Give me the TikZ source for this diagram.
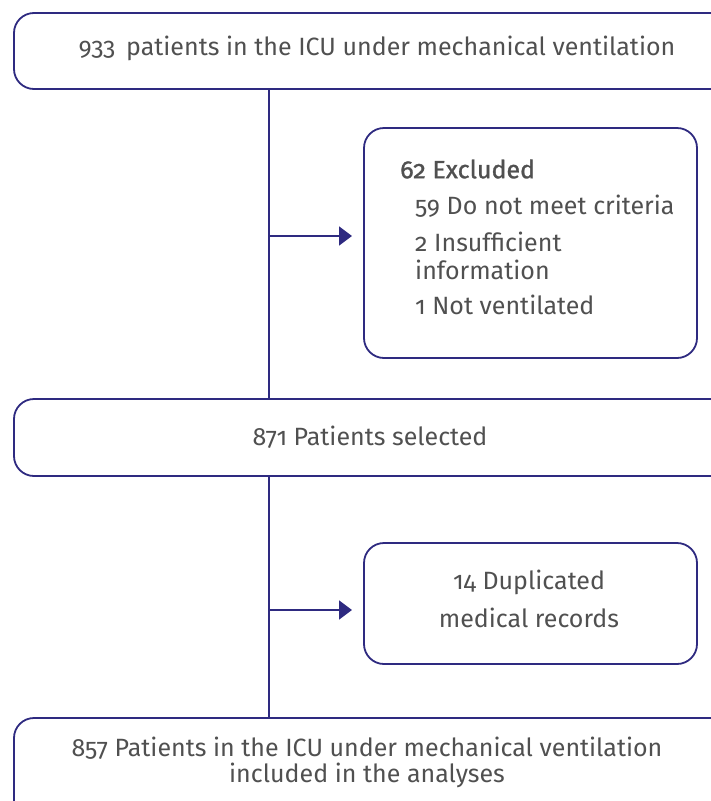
\documentclass[tikz,border=0pt]{standalone}
\usepackage{fontspec}
\setmainfont{Fira Sans}[Numbers=OldStyle]
\usetikzlibrary{arrows.meta}
\definecolor{ln}{HTML}{2E2A80}
\definecolor{tx}{HTML}{505050}
\begin{document}
\begin{tikzpicture}[x=1pt,y=-1pt,
  box/.style={draw=ln,line width=1.8pt,rounded corners=20pt},
  conn/.style={draw=ln,line width=1.8pt},
  arr/.style={conn,-{Triangle[length=13pt,width=19pt]}},
  lbl/.style={text=tx,font=\fontsize{25}{28}\selectfont,inner sep=0pt}]
\useasboundingbox (0,0) rectangle (711,801);
\begin{scope}
\clip (0,0) rectangle (711,801);
\draw[box] (14,13) rectangle (730,89);
\draw[box] (364,128) rectangle (697,358);
\draw[box] (14,399) rectangle (730,476);
\draw[box] (364,543) rectangle (697,664);
\draw[box] (14,718) rectangle (730,830);
\end{scope}
\coordinate (t) at (269,89);
\coordinate (m1) at (269,399);
\coordinate (m2) at (269,476);
\coordinate (b) at (269,718);
\coordinate (a1) at (269,236);
\coordinate (e1) at (352,236);
\coordinate (a2) at (269,610);
\coordinate (e2) at (352,610);
\draw[conn] (t) -- (m1);
\draw[conn] (m2) -- (b);
\draw[arr] (a1) -- (e1);
\draw[arr] (a2) -- (e2);
\node[lbl] (n1) at (377,48) {933\, patients in the ICU under mechanical ventilation};
\node[lbl,anchor=west] (ex) at (400,169) {\addfontfeature{FakeBold=1.2}62 Excluded};
\node[lbl,anchor=west] (e1t) at (415,206) {59 Do not meet criteria};
\node[lbl,anchor=west] (e2a) at (415,242) {2 Insufficient};
\node[lbl,anchor=west] (e2b) at (415,270) {information};
\node[lbl,anchor=west] (e3t) at (415,305) {1 Not ventilated};
\node[lbl] (n2) at (370,437) {871 Patients selected};
\node[lbl] (d1) at (529,582) {14 Duplicated};
\node[lbl] (d2) at (529,618) {medical records};
\node[lbl] (n3a) at (367,748) {857 Patients in the ICU under mechanical ventilation};
\node[lbl] (n3b) at (367,775) {included in the analyses};
\end{tikzpicture}
\end{document}
